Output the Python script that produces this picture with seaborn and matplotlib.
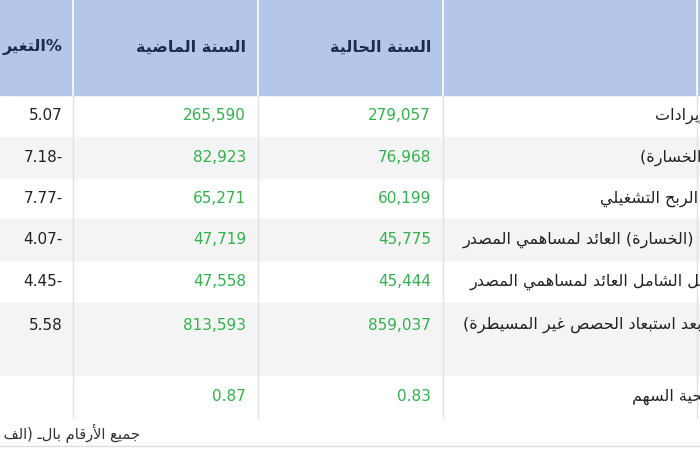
import matplotlib
matplotlib.use("Agg")
import matplotlib.pyplot as plt
import seaborn as sns

# ── data ──────────────────────────────────────────────────────────────────────
HEADERS = ["السنة الحالية", "السنة الماضية", "التغير"]
ROW_LABELS = [
    "الإيرادات",
    "الربح (الخسارة)",
    "الربح التشغيلي",
    "صافي الربح (الخسارة) العائد لمساهمي المصدر",
    "إجمالي الدخل الشامل العائد لمساهمي المصدر",
    "حقوق الملكية (بعد استبعاد الحصص غير المسيطرة)",
    "ربحية السهم",
]
CURRENT_YEAR = ["279,057", "76,968", "60,199", "45,775", "45,444", "859,037", "0.83"]
LAST_YEAR = ["265,590", "82,923", "65,271", "47,719", "47,558", "813,593", "0.87"]
CHANGE = ["5.07", "-7.18", "-7.77", "-4.07", "-4.45", "5.58", ""]
FOOTNOTE = "جميع الأرقام بالـ (الف ريال)"

# ── minimal arabic shaping (matplotlib has no RTL/joining support) ───────────
_codes = {
    "ء": (0xFE80, 1), "آ": (0xFE81, 2), "أ": (0xFE83, 2), "ؤ": (0xFE85, 2),
    "إ": (0xFE87, 2), "ئ": (0xFE89, 4), "ا": (0xFE8D, 2), "ب": (0xFE8F, 4),
    "ة": (0xFE93, 2), "ت": (0xFE95, 4), "ث": (0xFE99, 4), "ج": (0xFE9D, 4),
    "ح": (0xFEA1, 4), "خ": (0xFEA5, 4), "د": (0xFEA9, 2), "ذ": (0xFEAB, 2),
    "ر": (0xFEAD, 2), "ز": (0xFEAF, 2), "س": (0xFEB1, 4), "ش": (0xFEB5, 4),
    "ص": (0xFEB9, 4), "ض": (0xFEBD, 4), "ط": (0xFEC1, 4), "ظ": (0xFEC5, 4),
    "ع": (0xFEC9, 4), "غ": (0xFECD, 4), "ف": (0xFED1, 4), "ق": (0xFED5, 4),
    "ك": (0xFED9, 4), "ل": (0xFEDD, 4), "م": (0xFEE1, 4), "ن": (0xFEE5, 4),
    "ه": (0xFEE9, 4), "و": (0xFEED, 2), "ى": (0xFEEF, 2), "ي": (0xFEF1, 4),
}


def shape(text):
    chars = list(text)
    out = []
    i = 0
    while i < len(chars):
        if chars[i] == "ل" and i + 1 < len(chars) and chars[i + 1] in "اأإآ":
            out.append(("LA", chars[i + 1]))
            i += 2
        else:
            out.append(chars[i])
            i += 1

    def joins_next(c):
        return not isinstance(c, tuple) and c in _codes and _codes[c][1] == 4

    def joins_prev(c):
        return isinstance(c, tuple) or (c in _codes and _codes[c][1] > 1)

    res = []
    for k, c in enumerate(out):
        prev = out[k - 1] if k > 0 else None
        nxt = out[k + 1] if k + 1 < len(out) else None
        p = prev is not None and joins_next(prev) and joins_prev(c)
        if isinstance(c, tuple):
            lig = {"ا": 0xFEFB, "أ": 0xFEF7, "إ": 0xFEF9, "آ": 0xFEF5}[c[1]]
            res.append(chr(lig + (1 if p else 0)))
            continue
        if c not in _codes:
            res.append(c)
            continue
        base, nforms = _codes[c]
        n = nxt is not None and joins_next(c) and joins_prev(nxt)
        if nforms == 4 and p and n:
            res.append(chr(base + 3))
        elif nforms == 4 and n:
            res.append(chr(base + 2))
        elif p and nforms > 1:
            res.append(chr(base + 1))
        else:
            res.append(chr(base))
    mirror = {"(": ")", ")": "("}
    return "".join(mirror.get(c, c) for c in reversed(res))


# ── layout (pixel coordinates of the 700x450 canvas) ─────────────────────────
sns.set_theme(style="white")
plt.rcParams["font.family"] = ["DejaVu Sans"]

fig = plt.figure(figsize=(7, 4.5), dpi=100)
ax = fig.add_axes([0, 0, 1, 1])
ax.set_xlim(0, 700)
ax.set_ylim(450, 0)
ax.axis("off")

HEADER_BG = "#b4c6ea"
NAVY = "#1c2b4a"
GREEN = "#2fb34a"
ROW_GREY = "#f4f4f4"
col_edges = [73, 258, 443]
col_right = [431, 246, 63]
row_edges = [95, 137, 178, 219, 260, 303, 375, 418]
# left edge of the visible (cropped) part of each label in the reference
label_left = [655, 640, 600, 463, 470, 463, 632]

ax.add_patch(plt.Rectangle((0, 0), 700, 95, color=HEADER_BG, zorder=0))
for x in col_edges + [697]:
    ax.plot([x, x], [0, 95], color="white", lw=1.2)
    ax.plot([x, x], [95, 418], color="#e2e2e2", lw=1)
for h, x in zip(HEADERS, col_right):
    txt = shape(h) + ("%" if h == "التغير" else "")
    ax.text(x, 47, txt, ha="right", va="center", fontsize=11.5,
            fontweight="bold", color=NAVY)

for i in range(len(ROW_LABELS)):
    y0, y1 = row_edges[i], row_edges[i + 1]
    if i % 2 == 1:
        ax.add_patch(plt.Rectangle((0, y0), 700, y1 - y0, color=ROW_GREY, zorder=0))
    yc = (y0 + y1) / 2 if i != 5 else y0 + 22
    ax.text(col_right[0], yc, CURRENT_YEAR[i], ha="right", va="center",
            fontsize=11, color=GREEN)
    ax.text(col_right[1], yc, LAST_YEAR[i], ha="right", va="center",
            fontsize=11, color=GREEN)
    val = CHANGE[i]
    if val.startswith("-"):
        val = val[1:] + "-"
    ax.text(col_right[2], yc, val, ha="right", va="center",
            fontsize=11, color="#222222")
    # label is cropped at the right edge, as in the reference
    ax.text(label_left[i], yc, shape(ROW_LABELS[i]), ha="left", va="center",
            fontsize=11.5, color="#222222", clip_on=True)

ax.text(140, 433, shape(FOOTNOTE), ha="right", va="center", fontsize=10.5,
        color="#333333", clip_on=True)
ax.plot([0, 700], [446, 446], color="#dddddd", lw=1)

fig.savefig("out.png", dpi=100, facecolor="white")
